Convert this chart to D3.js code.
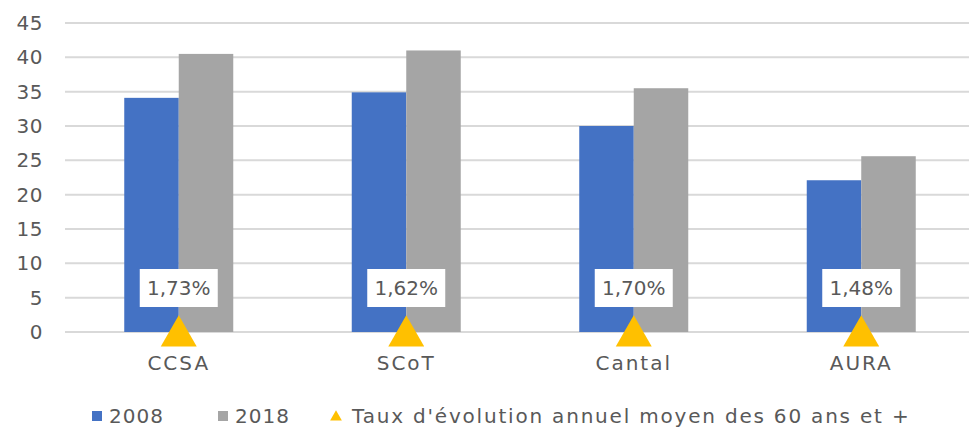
<!DOCTYPE html>
<html>
<head>
<meta charset="utf-8">
<script src="https://cdn.jsdelivr.net/npm/d3@7"></script>
<style>
  body { margin: 0; background: #fff; }
  text { font-family: "DejaVu Sans", sans-serif; fill: #595959; }
</style>
</head>
<body>
<svg width="969" height="428"></svg>
<script>
var categories = ["CCSA", "SCoT", "Cantal", "AURA"];
var values2008 = [34.1, 34.9, 30.0, 22.1];
var values2018 = [40.5, 41.0, 35.5, 25.6];
var taux = ["1,73%", "1,62%", "1,70%", "1,48%"];
var yTicks = [0, 5, 10, 15, 20, 25, 30, 35, 40, 45];

var svg = d3.select("svg"),
    margin = {top: 23, right: -6, bottom: 96, left: 65},
    width = +svg.attr("width") - (margin.left + margin.right),
    height = +svg.attr("height") - (margin.top + margin.bottom);

var x = d3.scaleBand().domain(categories).range([0, width]).paddingInner(0).paddingOuter(0),
    y = d3.scaleLinear().domain([0, 45]).range([height, 0]);

var barW = 54.5;

var g = svg.append("g").attr("transform", "translate(" + margin.left + "," + margin.top + ")");

// gridlines
g.selectAll(".grid")
    .data(yTicks)
    .enter().append("line")
    .attr("x1", 0)
    .attr("x2", width)
    .attr("y1", function(d) { return y(d); })
    .attr("y2", function(d) { return y(d); })
    .attr("stroke", "#d9d9d9")
    .attr("stroke-width", 2);

// y tick labels
g.selectAll(".ylab")
    .data(yTicks)
    .enter().append("text")
    .attr("x", -22)
    .attr("y", function(d) { return y(d); })
    .attr("dy", "0.35em")
    .attr("text-anchor", "end")
    .style("font-size", "20px")
    .style("letter-spacing", "0.5px")
    .text(function(d) { return d; });

// bars
g.selectAll(".b2008")
    .data(values2008)
    .enter().append("rect")
    .attr("x", function(d, i) { return x(categories[i]) + x.bandwidth() / 2 - barW; })
    .attr("y", function(d) { return y(d); })
    .attr("width", barW)
    .attr("height", function(d) { return y(0) - y(d); })
    .attr("fill", "#4472c4");

g.selectAll(".b2018")
    .data(values2018)
    .enter().append("rect")
    .attr("x", function(d, i) { return x(categories[i]) + x.bandwidth() / 2; })
    .attr("y", function(d) { return y(d); })
    .attr("width", barW)
    .attr("height", function(d) { return y(0) - y(d); })
    .attr("fill", "#a5a5a5");

// triangles at zero
var tri = d3.symbol().type(d3.symbolTriangle).size(560);
g.selectAll(".tri")
    .data(categories)
    .enter().append("path")
    .attr("d", tri)
    .attr("transform", function(d) { return "translate(" + (x(d) + x.bandwidth() / 2) + "," + (y(0) + 4) + ")"; })
    .attr("fill", "#ffc000");

// label boxes
var lab = g.selectAll(".lab")
    .data(taux)
    .enter().append("g")
    .attr("transform", function(d, i) { return "translate(" + (x(categories[i]) + x.bandwidth() / 2) + "," + (y(0) - 44) + ")"; });

lab.append("rect")
    .attr("x", -39)
    .attr("y", -19)
    .attr("width", 78)
    .attr("height", 38)
    .attr("fill", "#fff");

lab.append("text")
    .attr("text-anchor", "middle")
    .attr("dy", "0.35em")
    .style("font-size", "20px")
    .text(function(d) { return d; });

// category axis labels
g.selectAll(".xlab")
    .data(categories)
    .enter().append("text")
    .attr("x", function(d) { return x(d) + x.bandwidth() / 2; })
    .attr("y", y(0) + 38)
    .attr("text-anchor", "middle")
    .style("font-size", "20px")
    .style("letter-spacing", "2px")
    .text(function(d) { return d; });

// legend
var leg = svg.append("g").attr("transform", "translate(0,416)");
leg.append("rect").attr("x", 92).attr("y", -5).attr("width", 10).attr("height", 10).attr("fill", "#4472c4");
leg.append("text").attr("x", 109).attr("dy", "0.35em").style("font-size", "20px").style("letter-spacing", "1px").text("2008");
leg.append("rect").attr("x", 218).attr("y", -5).attr("width", 10).attr("height", 10).attr("fill", "#a5a5a5");
leg.append("text").attr("x", 235).attr("dy", "0.35em").style("font-size", "20px").style("letter-spacing", "1px").text("2018");
leg.append("path")
    .attr("d", d3.symbol().type(d3.symbolTriangle).size(60))
    .attr("transform", "translate(336,1)")
    .attr("fill", "#ffc000");
leg.append("text").attr("x", 352).attr("dy", "0.35em").style("font-size", "20px").style("letter-spacing", "1.8px").text("Taux d'évolution annuel moyen des 60 ans et +");
</script>
</body>
</html>
